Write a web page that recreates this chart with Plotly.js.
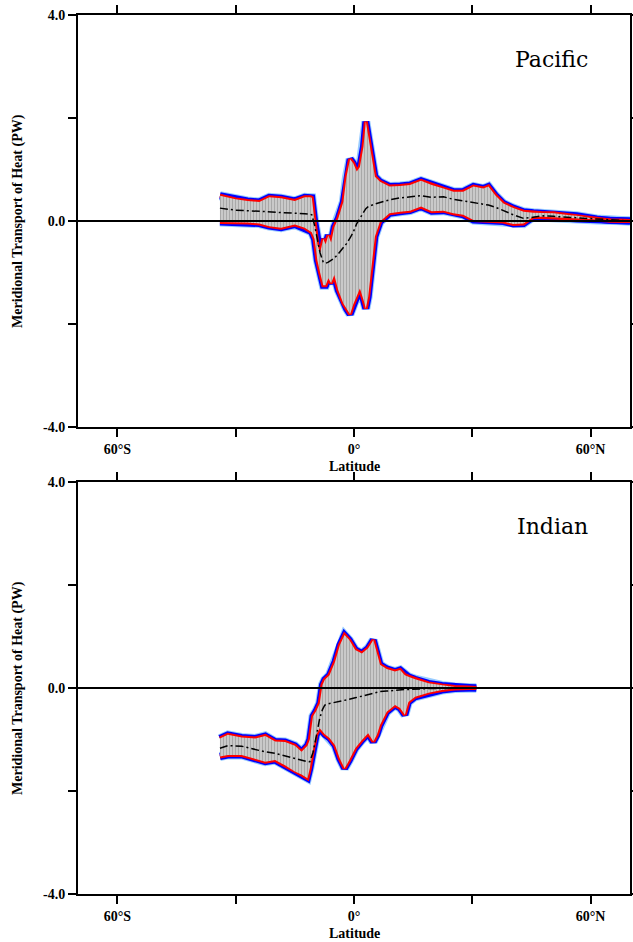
<!DOCTYPE html>
<html><head><meta charset="utf-8">
<script src="https://cdn.plot.ly/plotly-3.0.1.min.js"></script>
<style>html,body{margin:0;padding:0;background:#fff;}#chart{width:633px;height:942px;}</style>
</head><body><div id="chart"></div>
<script>
// ---------- Data ----------
const pacLat = [-34, -30, -27, -24, -21.5, -18.5, -15, -12.5, -11, -10.7,
  -10, -9.3, -8.6, -7.8, -7.2, -6.5, -5.8, -5, -4, -2.7,
  -1.9, -1, -0.2, 0.7, 1.5, 2.4, 3, 3.6, 4.5, 5.3,
  6.6, 9, 11.7, 14.2, 17, 19.7, 22.7, 25.2, 27.7, 30.3,
  32.8, 34.1, 35.8, 37.9, 40.4, 43, 45.5, 48, 50.6, 54.8,
  56.5, 61.6, 65, 70];
const pacUpper = [0.49, 0.42, 0.39, 0.37, 0.46, 0.44, 0.39, 0.46, 0.46, 0.45,
  0.0, -0.45, -0.62, -0.35, -0.45, -0.28, -0.42, -0.12, 0.05, 0.37,
  0.86, 1.20, 1.12, 0.96, 1.05, 1.44, 1.93, 1.64, 1.18, 0.86,
  0.76, 0.67, 0.68, 0.70, 0.78, 0.70, 0.63, 0.57, 0.57, 0.67,
  0.63, 0.67, 0.50, 0.34, 0.25, 0.18, 0.16, 0.15, 0.15, 0.11,
  0.10, 0.04, 0.01, 0.0];
const pacLower = [-0.02, -0.02, -0.03, -0.05, -0.10, -0.13, -0.07, -0.13, -0.20, -0.22,
  -0.35, -0.76, -1.00, -1.25, -1.25, -1.11, -1.21, -1.05, -1.34, -1.60,
  -1.70, -1.81, -1.62, -1.44, -1.31, -1.53, -1.70, -1.47, -0.89, -0.30,
  -0.01, 0.15, 0.18, 0.20, 0.28, 0.19, 0.20, 0.15, 0.12, 0.02,
  0.01, 0.0, 0.0, -0.01, -0.06, -0.05, 0.08, 0.08, 0.07, 0.05,
  0.04, 0.02, 0.01, 0.0];
const pacMean = [0.25, 0.21, 0.20, 0.19, 0.18, 0.17, 0.15, 0.14, 0.13, 0.12,
  -0.08, -0.37, -0.62, -0.80, -0.82, -0.80, -0.77, -0.72, -0.64, -0.52,
  -0.44, -0.33, -0.22, -0.05, 0.06, 0.18, 0.24, 0.28, 0.31, 0.33,
  0.36, 0.41, 0.45, 0.47, 0.49, 0.46, 0.47, 0.42, 0.39, 0.37,
  0.34, 0.31, 0.27, 0.20, 0.12, 0.05, 0.08, 0.10, 0.09, 0.07,
  0.06, 0.03, 0.01, 0.0];

const indLat = [-34, -32, -28.5, -25, -22.5, -20, -17.5, -15, -13.3, -11.8,
  -11.2, -10.4, -9.6, -8.7, -8.0, -7.4, -6.2, -4.8, -3.6, -2.4,
  -1.2, 0.3, 2.0, 3.6, 4.9, 5.8, 6.6, 8.3, 10.4, 11.7,
  12.9, 13.8, 15.5, 18.9, 22.3, 25.6, 29, 31];
const indUpper = [-0.98, -0.91, -0.96, -0.98, -0.93, -1.04, -1.05, -1.12, -1.24, -1.12,
  -1.00, -0.55, -0.45, -0.30, 0.06, 0.16, 0.25, 0.51, 0.83, 1.03,
  0.93, 0.74, 0.67, 0.77, 0.93, 0.70, 0.45, 0.37, 0.32, 0.35,
  0.25, 0.22, 0.17, 0.09, 0.05, 0.02, 0.01, 0.0];
const indLower = [-1.33, -1.30, -1.30, -1.37, -1.43, -1.40, -1.50, -1.62, -1.68, -1.75,
  -1.56, -1.20, -0.91, -0.78, -0.85, -0.90, -0.97, -1.11, -1.37, -1.56,
  -1.40, -1.17, -1.01, -0.88, -1.04, -0.91, -0.72, -0.46, -0.33, -0.39,
  -0.52, -0.27, -0.17, -0.09, -0.04, -0.01, 0.0, 0.0];
const indMean = [-1.17, -1.12, -1.13, -1.20, -1.24, -1.27, -1.32, -1.38, -1.41, -1.43,
  -1.43, -1.25, -0.95, -0.59, -0.42, -0.33, -0.30, -0.28, -0.26, -0.24,
  -0.22, -0.19, -0.16, -0.13, -0.10, -0.09, -0.07, -0.06, -0.04, -0.04,
  -0.03, -0.03, -0.02, -0.01, -0.01, 0.0, 0.0, 0.0];

const basinNames = ['Pacific', 'Indian'];
const xTickVals = [-60, -30, 0, 30, 60];
const xTickText = ['60°S', '', '0°', '', '60°N'];
const yTickVals = [-4, -2, 0, 2, 4];
const yTickText = ['-4.0', '', '0.0', '', '4.0'];
const xTitle = 'Latitude';
const yTitle = 'Meridional Transport of Heat (PW)';

// ---------- Traces ----------
function basinTraces(lat, up, lo, mean, xa, ya) {
  const t = [];
  const edges = [['#99ccff', 9], ['#0000ff', 7], ['#ff0000', 4]];
  edges.forEach(([c, w]) => {
    [up, lo].forEach(v => t.push({
      x: lat, y: v, xaxis: xa, yaxis: ya, mode: 'lines',
      line: {color: c, width: w}, hoverinfo: 'skip', showlegend: false
    }));
  });
  t.push({x: lat, y: lo, xaxis: xa, yaxis: ya, mode: 'lines',
    line: {width: 0, color: 'rgba(0,0,0,0)'}, showlegend: false, hoverinfo: 'skip'});
  t.push({x: lat, y: up, xaxis: xa, yaxis: ya, mode: 'lines',
    line: {width: 0, color: 'rgba(0,0,0,0)'}, fill: 'tonexty', fillcolor: '#c8c8c8',
    fillpattern: {shape: '|', size: 3, solidity: 0.45, fgcolor: '#a8a8a8', bgcolor: '#d0d0d0'},
    showlegend: false, hoverinfo: 'skip'});
  t.push({x: lat, y: mean, xaxis: xa, yaxis: ya, mode: 'lines',
    line: {color: '#000', width: 1.5, dash: '8px,3px,2px,3px'}, showlegend: false, hoverinfo: 'skip'});
  return t;
}

const data = [].concat(
  basinTraces(pacLat, pacUpper, pacLower, pacMean, 'x', 'y'),
  basinTraces(indLat, indUpper, indLower, indMean, 'x2', 'y2')
);

// ---------- Layout ----------
const tickFont = {family: 'Liberation Serif', size: 14, color: '#000', weight: 'bold'};
function xAxis(anchor) {
  return {anchor: anchor, range: [-70, 70], tickmode: 'array', tickvals: xTickVals, ticktext: xTickText,
    ticks: 'outside', ticklen: 8, tickwidth: 2, tickcolor: '#000', showline: true, linewidth: 2,
    linecolor: '#000', mirror: 'ticks', showgrid: false, zeroline: false, tickfont: tickFont, fixedrange: true};
}
function yAxis(anchor, dom) {
  return {anchor: anchor, domain: dom, range: [-4, 4], tickmode: 'array', tickvals: yTickVals, ticktext: yTickText,
    ticks: 'outside', ticklen: 8, tickwidth: 2, tickcolor: '#000', showline: true, linewidth: 2,
    linecolor: '#000', mirror: 'ticks', showgrid: false, zeroline: false, tickfont: tickFont, fixedrange: true};
}

const titleFont = {family: 'Liberation Serif', size: 14, color: '#000', weight: 'bold'};
const annotations = [];
[['x', 'y'], ['x2', 'y2']].forEach(([xa, ya], i) => {
  annotations.push({xref: xa + ' domain', yref: ya + ' domain', x: 0.927, y: 0.891, xanchor: 'right', yanchor: 'middle',
    text: basinNames[i], showarrow: false, font: {family: 'DejaVu Serif', size: 22, color: '#000'}});
  annotations.push({xref: xa + ' domain', yref: ya + ' domain', x: 0.5, y: 0, xanchor: 'center', yanchor: 'top',
    yshift: -30, text: xTitle, showarrow: false, font: titleFont});
  annotations.push({xref: 'paper', yref: ya + ' domain', x: -0.1087, y: 0.5, xanchor: 'center', yanchor: 'middle',
    textangle: -90, text: yTitle, showarrow: false, font: {family: 'Liberation Serif', size: 14, color: '#000', weight: 'bold'}});
});

const shapes = ['y', 'y2'].map((ya, i) => ({
  type: 'line', xref: (i === 0 ? 'x' : 'x2') + ' domain', yref: ya, x0: 0, x1: 1, y0: 0, y1: 0,
  layer: 'above', line: {color: '#000', width: 1.8}
}));

const layout = {
  width: 633, height: 942,
  margin: {l: 78, r: 3, t: 15, b: 48},
  paper_bgcolor: '#fff', plot_bgcolor: '#fff',
  showlegend: false,
  xaxis: xAxis('y'),
  yaxis: yAxis('x', [0.5313, 1]),
  xaxis2: xAxis('y2'),
  yaxis2: yAxis('x2', [0, 0.4687]),
  annotations: annotations,
  shapes: shapes
};

Plotly.newPlot('chart', data, layout, {displayModeBar: false, staticPlot: true});
</script>
</body></html>
